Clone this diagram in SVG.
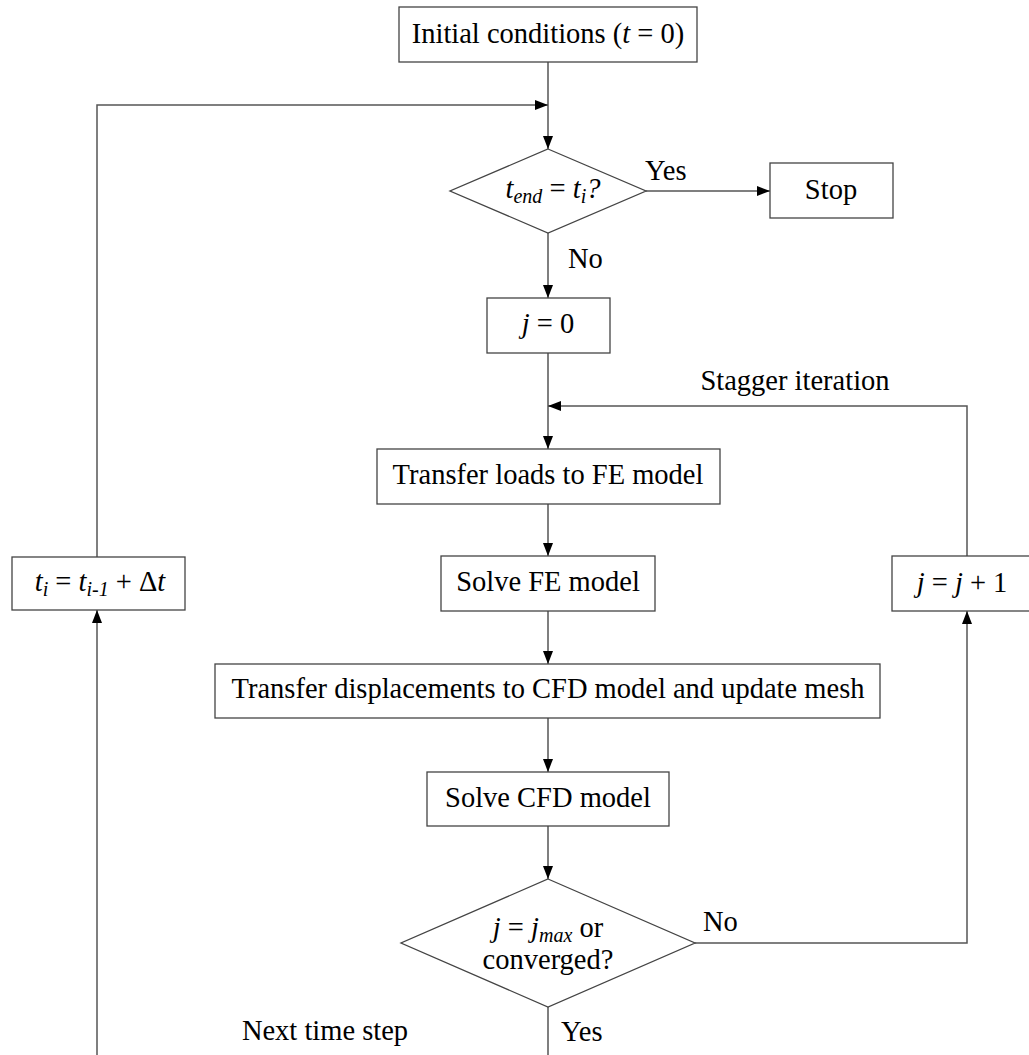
<svg xmlns="http://www.w3.org/2000/svg" width="1029" height="1055" viewBox="0 0 1029 1055">
<style>
.box{fill:#fff;stroke:#444;stroke-width:1.3}
.ln{fill:none;stroke:#555;stroke-width:1.5}
text{font-family:"Liberation Serif","Times New Roman",serif;font-size:28.5px;fill:#000}
.c{text-anchor:middle}
.i{font-style:italic}
.s{font-size:20px;font-style:italic}
</style>
<defs>
<marker id="ah" markerWidth="13" markerHeight="10" refX="13" refY="5" orient="auto" markerUnits="userSpaceOnUse">
<path d="M0,0 L13,5 L0,10 Z" fill="#000"/>
</marker>
</defs>
<rect width="1029" height="1055" fill="#fff"/>
<g id="connectors">
<line class="ln" x1="548" y1="62" x2="548" y2="149" marker-end="url(#ah)"/>
<line class="ln" x1="646" y1="191" x2="770" y2="191" marker-end="url(#ah)"/>
<line class="ln" x1="548" y1="233" x2="548" y2="298" marker-end="url(#ah)"/>
<line class="ln" x1="548" y1="353" x2="548" y2="449" marker-end="url(#ah)"/>
<polyline class="ln" points="967,556 967,406 548,406" marker-end="url(#ah)"/>
<line class="ln" x1="548" y1="504" x2="548" y2="556" marker-end="url(#ah)"/>
<line class="ln" x1="548" y1="611" x2="548" y2="664" marker-end="url(#ah)"/>
<line class="ln" x1="548" y1="718" x2="548" y2="772" marker-end="url(#ah)"/>
<line class="ln" x1="548" y1="826" x2="548" y2="879" marker-end="url(#ah)"/>
<polyline class="ln" points="695,943 967,943 967,611" marker-end="url(#ah)"/>
<line class="ln" x1="548" y1="1007" x2="548" y2="1055"/>
<line class="ln" x1="97" y1="1055" x2="97" y2="610" marker-end="url(#ah)"/>
<polyline class="ln" points="97,557 97,105 548,105" marker-end="url(#ah)"/>
<text x="645" y="180">Yes</text>
<text x="568" y="268">No</text>
<text x="795" y="390" class="c">Stagger iteration</text>
<text x="703" y="931">No</text>
<text x="561" y="1041">Yes</text>
<text x="325" y="1040" class="c">Next time step</text>
</g>
<g id="init">
<rect class="box" x="399" y="7" width="298" height="55"/>
<text x="548" y="43" class="c">Initial conditions (<tspan class="i">t</tspan> = 0)</text>
</g>
<g id="dec1">
<polygon class="box" points="548,149 646,191 548,233 450,191"/>
<text x="553" y="198" class="c"><tspan class="i">t</tspan><tspan class="s" dy="5">end</tspan><tspan dy="-5"> = </tspan><tspan class="i">t</tspan><tspan class="s" dy="5">i</tspan><tspan class="i" dy="-5">?</tspan></text>
</g>
<g id="stop">
<rect class="box" x="770" y="163" width="123" height="55"/>
<text x="831" y="199" class="c">Stop</text>
</g>
<g id="j0">
<rect class="box" x="487" y="298" width="123" height="55"/>
<text x="548" y="333" class="c"><tspan class="i">j</tspan> = 0</text>
</g>
<g id="transferLoads">
<rect class="box" x="377" y="449" width="343" height="55"/>
<text x="548" y="484" class="c">Transfer loads to FE model</text>
</g>
<g id="solveFE">
<rect class="box" x="441" y="556" width="214" height="55"/>
<text x="548" y="591" class="c">Solve FE model</text>
</g>
<g id="transferDisp">
<rect class="box" x="215" y="664" width="665" height="54"/>
<text x="548" y="698" class="c">Transfer displacements to CFD model and update mesh</text>
</g>
<g id="solveCFD">
<rect class="box" x="427" y="772" width="242" height="54"/>
<text x="548" y="807" class="c">Solve CFD model</text>
</g>
<g id="dec2">
<polygon class="box" points="548,879 695,943 548,1007 401,943"/>
<text x="548" y="937" class="c"><tspan class="i">j</tspan> = <tspan class="i">j</tspan><tspan class="s" dy="5">max</tspan><tspan dy="-5"> or</tspan></text>
<text x="548" y="969" class="c">converged?</text>
</g>
<g id="tupdate">
<rect class="box" x="12" y="557" width="173" height="53"/>
<text x="100" y="591" class="c"><tspan class="i">t</tspan><tspan class="s" dy="5">i</tspan><tspan dy="-5"> = </tspan><tspan class="i">t</tspan><tspan class="s" dy="5">i-1</tspan><tspan dy="-5"> + Δ</tspan><tspan class="i">t</tspan></text>
</g>
<g id="jinc">
<rect class="box" x="892" y="556" width="150" height="55"/>
<text x="962" y="592" class="c"><tspan class="i">j</tspan> = <tspan class="i">j</tspan> + 1</text>
</g>
</svg>
